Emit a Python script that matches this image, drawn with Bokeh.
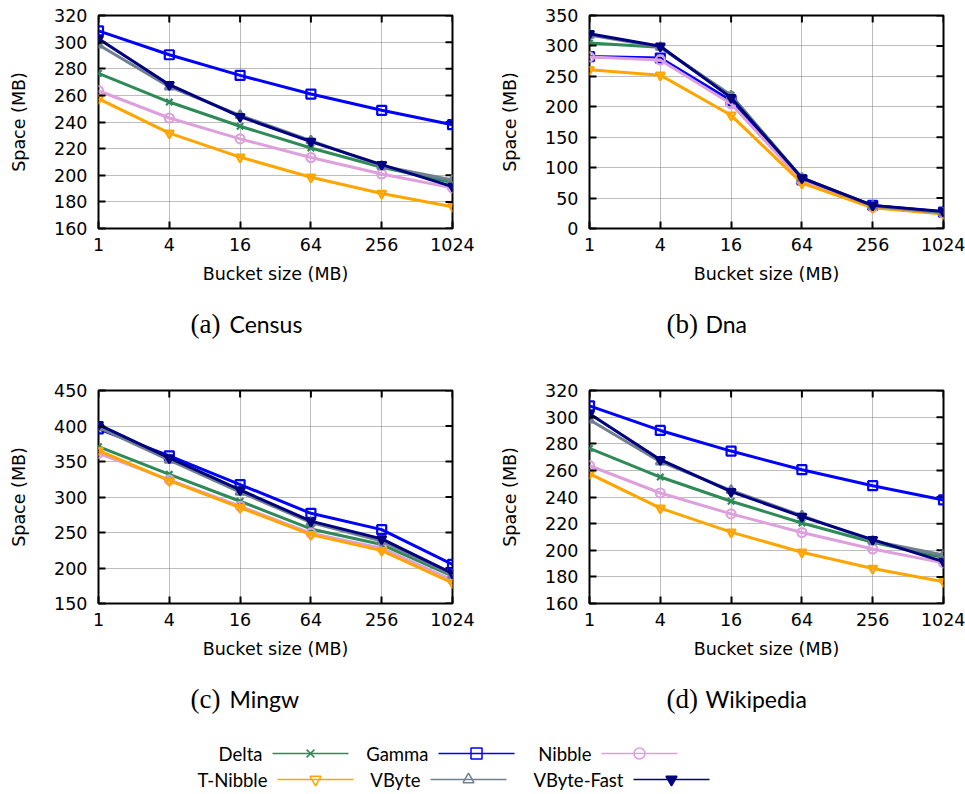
import math
from bokeh.plotting import figure
from bokeh.layouts import column, row
from bokeh.models import FixedTicker, Range1d
from bokeh.core.properties import value
from bokeh.embed import file_html
from bokeh.resources import INLINE

# ---------------- data ----------------
bucket_sizes = [1, 4, 16, 64, 256, 1024]
bucket_labels = ["1", "4", "16", "64", "256", "1024"]
series_names = ["Delta", "Gamma", "Nibble", "T-Nibble", "VByte", "VByte-Fast"]

census_delta = [276.5, 255.0, 236.8, 220.5, 206.0, 194.5]
census_gamma = [308.5, 290.5, 275.0, 261.0, 248.8, 238.0]
census_nibble = [263.5, 243.0, 227.3, 213.3, 201.0, 190.5]
census_tnibble = [257.5, 231.6, 213.6, 198.5, 186.3, 176.3]
census_vbyte = [298.0, 266.5, 245.0, 226.0, 207.0, 196.5]
census_vbytefast = [302.5, 268.0, 244.0, 225.3, 208.0, 191.5]

dna_delta = [305.0, 298.0, 219.0, 83.0, 37.0, 26.0]
dna_gamma = [282.5, 280.0, 210.0, 80.0, 38.0, 27.0]
dna_nibble = [282.0, 277.0, 205.0, 78.0, 35.0, 25.0]
dna_tnibble = [261.0, 252.0, 186.0, 74.5, 34.0, 24.0]
dna_vbyte = [318.0, 298.0, 218.0, 83.0, 37.0, 26.0]
dna_vbytefast = [320.0, 299.5, 215.0, 83.0, 38.0, 28.0]

mingw_delta = [371.0, 332.0, 294.0, 255.0, 233.0, 188.5]
mingw_gamma = [396.0, 358.0, 317.5, 277.0, 254.0, 205.0]
mingw_nibble = [361.5, 324.0, 287.0, 249.0, 228.0, 183.0]
mingw_tnibble = [365.5, 323.0, 285.0, 247.0, 224.5, 179.0]
mingw_vbyte = [398.0, 352.0, 307.0, 264.0, 238.0, 190.0]
mingw_vbytefast = [402.0, 355.0, 310.0, 266.0, 241.0, 192.5]

wiki_delta = [276.5, 255.0, 236.8, 220.5, 206.0, 194.5]
wiki_gamma = [308.5, 290.0, 274.5, 260.5, 248.5, 237.8]
wiki_nibble = [263.5, 243.0, 227.3, 213.3, 201.0, 190.5]
wiki_tnibble = [257.5, 231.6, 213.6, 198.5, 186.3, 176.3]
wiki_vbyte = [298.0, 266.5, 245.0, 226.0, 207.0, 196.5]
wiki_vbytefast = [302.5, 268.0, 244.0, 225.3, 208.0, 191.5]

census_ticks = [160, 180, 200, 220, 240, 260, 280, 300, 320]
dna_ticks = [0, 50, 100, 150, 200, 250, 300, 350]
mingw_ticks = [150, 200, 250, 300, 350, 400, 450]
wiki_ticks = [160, 180, 200, 220, 240, 260, 280, 300, 320]

captions = [("(a)", "Census"), ("(b)", "Dna"), ("(c)", "Mingw"), ("(d)", "Wikipedia")]

# ---------------- styles ----------------
colors = ["#2e8b57", "#0000ff", "#dda0dd", "#ffa500", "#708090", "#000080"]
markers = ["x", "square", "circle", "inverted_triangle", "triangle", "inverted_triangle"]
filled = [False, False, False, False, False, True]

TICK_FONT = "DejaVu Sans"
SANS = "Lato"
SERIF = "Liberation Serif"


def make_panel(series, yticks, width, height, b_left, b_right, b_top, b_bottom):
    p = figure(width=width, height=height, x_axis_type="log",
               x_range=Range1d(bucket_sizes[0], bucket_sizes[-1]),
               y_range=Range1d(yticks[0], yticks[-1]),
               output_backend="svg", toolbar_location=None, title=None,
               min_border_left=b_left, min_border_right=b_right,
               min_border_top=b_top, min_border_bottom=b_bottom)
    p.outline_line_color = "black"
    p.outline_line_width = 2
    p.background_fill_color = "white"
    p.border_fill_color = "white"

    xt = FixedTicker(ticks=bucket_sizes, minor_ticks=[])
    yt = FixedTicker(ticks=yticks, minor_ticks=[])
    overrides = {b: l for b, l in zip(bucket_sizes, bucket_labels)}

    xa = p.xaxis[0]
    xa.ticker = xt
    xa.major_label_overrides = overrides
    xa.axis_label = "Bucket size (MB)"
    ya = p.yaxis[0]
    ya.ticker = yt
    ya.axis_label = "Space (MB)"

    for ax in (xa, ya):
        ax.axis_line_color = None
        ax.major_tick_in = 7
        ax.major_tick_out = 0
        ax.major_tick_line_color = "black"
        ax.major_tick_line_width = 2
        ax.minor_tick_line_color = None
        ax.major_label_text_font = TICK_FONT
        ax.major_label_text_font_size = "17.5px"
        ax.major_label_text_color = "black"
        ax.axis_label_text_font = TICK_FONT
        ax.axis_label_text_font_size = "17.5px"
        ax.axis_label_text_font_style = "normal"
        ax.axis_label_text_color = "black"
    xa.major_label_standoff = 9
    xa.axis_label_standoff = 10
    ya.major_label_standoff = 11
    ya.axis_label_standoff = 22

    # mirror tick marks on top and right edges (half of each dash is clipped by the frame)
    p.scatter(bucket_sizes, [yticks[-1]] * len(bucket_sizes), marker="dash", angle=math.pi / 2,
              size=14, line_color="black", line_width=2)
    p.scatter([bucket_sizes[-1]] * len(yticks), yticks, marker="dash",
              size=14, line_color="black", line_width=2)

    for g in (p.xgrid[0], p.ygrid[0]):
        g.grid_line_color = "#7a7a7a"
        g.grid_line_dash = "1 1"
        g.grid_line_width = 1

    for name, ys, c, m, f in zip(series_names, series, colors, markers, filled):
        p.line(bucket_sizes, ys, line_color=c, line_width=3)
        p.scatter(bucket_sizes, ys, marker=m, size=9, line_color=c, line_width=2.2,
                  fill_color=c if f else None)
    return p


census = [census_delta, census_gamma, census_nibble, census_tnibble, census_vbyte, census_vbytefast]
dna = [dna_delta, dna_gamma, dna_nibble, dna_tnibble, dna_vbyte, dna_vbytefast]
mingw = [mingw_delta, mingw_gamma, mingw_nibble, mingw_tnibble, mingw_vbyte, mingw_vbytefast]
wiki = [wiki_delta, wiki_gamma, wiki_nibble, wiki_tnibble, wiki_vbyte, wiki_vbytefast]

pa = make_panel(census, census_ticks, 482, 300, 98, 30, 15, 72)
pb = make_panel(dna, dna_ticks, 483, 300, 107, 22, 15, 72)
pc = make_panel(mingw, mingw_ticks, 482, 320, 98, 30, 40, 67)
pd = make_panel(wiki, wiki_ticks, 483, 320, 107, 22, 40, 67)


def blank(width, height):
    f = figure(width=width, height=height, x_range=Range1d(0, width), y_range=Range1d(0, height),
               output_backend="svg", toolbar_location=None, title=None,
               min_border=0, x_axis_location=None, y_axis_location=None)
    f.xgrid.visible = False
    f.ygrid.visible = False
    f.outline_line_color = None
    f.border_fill_color = "white"
    return f


def caption_fig(pair_left, pair_right, height, ymid):
    f = blank(965, height)
    for (tag, name), x0 in ((pair_left, 190), (pair_right, 666)):
        f.text([x0], [ymid], text=[tag], text_align="left", text_baseline="middle",
               text_font=value(SERIF), text_font_size="27px", text_color="black")
        f.text([x0 + 39], [ymid], text=[name], text_align="left", text_baseline="middle",
               text_font=value(SANS), text_font_size="23px", text_color="black")
    return f


cap1 = caption_fig(captions[0], captions[1], 50, 27)
cap2 = caption_fig(captions[2], captions[3], 55, 27)

# legend
leg = blank(965, 69)
leg_rows = [41, 15]
leg_text_right = [262, 428, 591, 267, 420, 623]
for i, (name, c, m, f) in enumerate(zip(series_names, colors, markers, filled)):
    r = i // 3
    y = leg_rows[r]
    xr = leg_text_right[i]
    leg.text([xr], [y], text=[name], text_align="right", text_baseline="middle",
             text_font=value(SANS), text_font_size="18.5px", text_color="black")
    leg.segment([xr + 10], [y], [xr + 86], [y], line_color=c, line_width=1.5)
    leg.scatter([xr + 48], [y], marker=m, size=11, line_color=c, line_width=1.5,
                fill_color=c if f else None)

layout = column(row(pa, pb), cap1, row(pc, pd), cap2, leg)
open("out.html", "w").write(file_html(layout, INLINE))
